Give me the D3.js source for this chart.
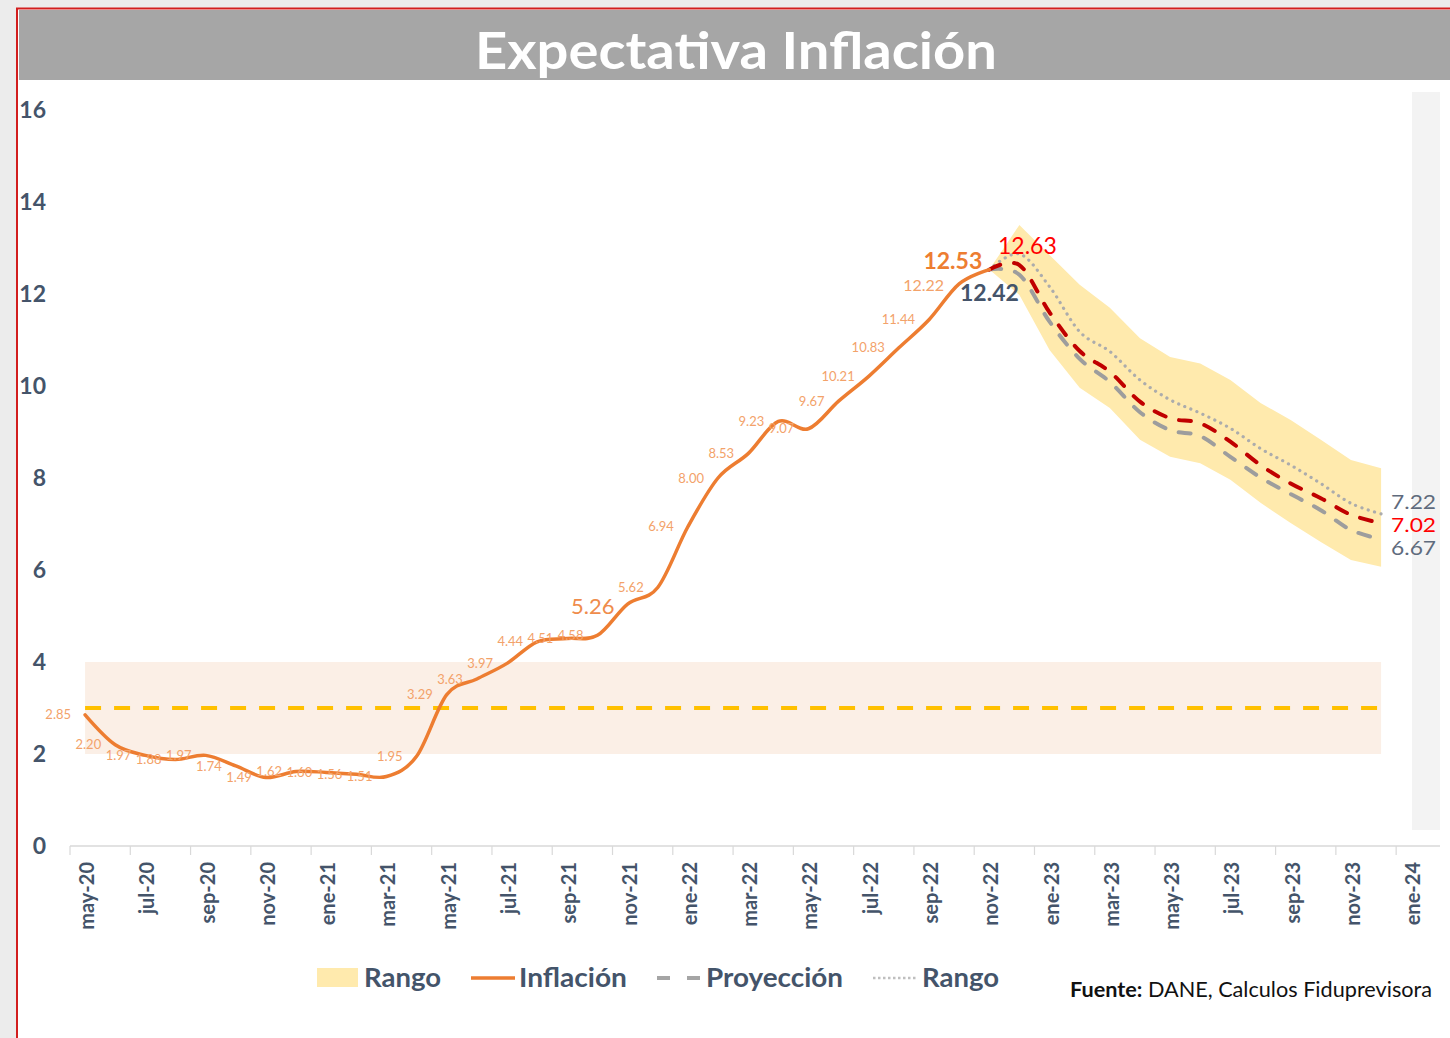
<!DOCTYPE html>
<html>
<head>
<meta charset="utf-8">
<script src="https://cdn.jsdelivr.net/npm/d3@7"></script>
<style>
  html, body { margin: 0; padding: 0; background: #ffffff; }
  svg { display: block; }
  text { font-family: Lato, "Open Sans", sans-serif; }
</style>
</head>
<body>
<svg id="chart" width="1450" height="1038"></svg>
<script>
// ---------------- DATA ----------------
const categories = [
  "may-20","jun-20","jul-20","ago-20","sep-20","oct-20","nov-20","dic-20",
  "ene-21","feb-21","mar-21","abr-21","may-21","jun-21","jul-21","ago-21","sep-21","oct-21","nov-21","dic-21",
  "ene-22","feb-22","mar-22","abr-22","may-22","jun-22","jul-22","ago-22","sep-22","oct-22","nov-22","dic-22",
  "ene-23","feb-23","mar-23","abr-23","may-23","jun-23","jul-23","ago-23","sep-23","oct-23","nov-23","dic-23",
  "ene-24"
];
const inflationMonths = categories.slice(0, 31); // may-20 .. nov-22
const inflation = [2.85, 2.20, 1.97, 1.88, 1.97, 1.74, 1.49, 1.62, 1.60, 1.56, 1.51, 1.95,
  3.29, 3.63, 3.97, 4.44, 4.51, 4.58, 5.26, 5.62, 6.94, 8.00, 8.53, 9.23, 9.07, 9.67,
  10.21, 10.83, 11.44, 12.22, 12.53];

const projMonths = ["nov-22","dic-22","ene-23","feb-23","mar-23","abr-23","may-23","jun-23","jul-23","ago-23","sep-23","oct-23","nov-23","dic-23"];
const projCentral = [12.53, 12.63, 11.60, 10.76, 10.31, 9.66, 9.30, 9.19, 8.79, 8.28, 7.88, 7.56, 7.20, 7.02];
const projLow     = [12.53, 12.42, 11.40, 10.59, 10.09, 9.43, 9.04, 8.91, 8.46, 8.01, 7.65, 7.30, 6.87, 6.67];
const projHigh    = [12.53, 12.87, 12.16, 11.18, 10.75, 10.13, 9.70, 9.41, 9.08, 8.64, 8.28, 7.88, 7.45, 7.22];
const bandHigh    = [12.53, 13.50, 12.85, 12.20, 11.70, 11.04, 10.63, 10.49, 10.13, 9.63, 9.26, 8.83, 8.39, 8.21];
const bandLow     = [12.53, 11.98, 10.78, 9.96, 9.52, 8.83, 8.46, 8.32, 7.96, 7.46, 7.02, 6.61, 6.22, 6.07];

const targetRange = [2, 4];
const targetValue = 3;
const targetMonths = ["may-20", "dic-23"];
const yTicks = [0, 2, 4, 6, 8, 10, 12, 14, 16];

const title = "Expectativa Inflación";
const legendItems = ["Rango", "Inflación", "Proyección", "Rango"];
const sourceBold = "Fuente:";
const sourceText = " DANE, Calculos Fiduprevisora";

// ---------------- CHART ----------------
const svg = d3.select("#chart");

// frame
svg.append("rect").attr("x", 0).attr("y", 0).attr("width", 1450).attr("height", 8).attr("fill", "#ececec");
svg.append("rect").attr("x", 0).attr("y", 0).attr("width", 16).attr("height", 1038).attr("fill", "#ececec");
svg.append("path").attr("d", "M17,1038 V8.5 H1450").attr("fill", "none").attr("stroke", "#d21e1e").attr("stroke-width", 2);
svg.append("rect").attr("x", 19).attr("y", 10).attr("width", 1431).attr("height", 70).attr("fill", "#a6a6a6");
svg.append("text").attr("x", 736).attr("y", 69).attr("text-anchor", "middle")
  .attr("fill", "#ffffff").attr("font-weight", 700).attr("font-size", 51)
  .attr("textLength", 522).attr("lengthAdjust", "spacingAndGlyphs").text(title);
svg.append("rect").attr("x", 1412).attr("y", 92).attr("width", 28).attr("height", 738).attr("fill", "#f3f3f3");

const x = d3.scaleBand().domain(categories).range([70, 70 + 45 * 30.14]).paddingInner(0).paddingOuter(0);
const cx = c => x(c) + x.bandwidth() / 2;
const y = d3.scaleLinear().domain([0, 16]).range([846, 110]);

// target range band
svg.append("rect")
  .attr("x", cx(targetMonths[0])).attr("width", cx(targetMonths[1]) - cx(targetMonths[0]))
  .attr("y", y(targetRange[1])).attr("height", y(targetRange[0]) - y(targetRange[1]))
  .attr("fill", "#fbefe6");

// projection band
const bandData = projMonths.map((m, i) => ({ m, lo: bandLow[i], hi: bandHigh[i] }));
svg.append("path").datum(bandData)
  .attr("d", d3.area().x(d => cx(d.m)).y0(d => y(d.lo)).y1(d => y(d.hi)))
  .attr("fill", "#ffeaad");

// target line
svg.append("line")
  .attr("x1", cx(targetMonths[0])).attr("x2", cx(targetMonths[1]))
  .attr("y1", y(targetValue)).attr("y2", y(targetValue))
  .attr("stroke", "#ffc000").attr("stroke-width", 4).attr("stroke-dasharray", "16,13");

// x axis
svg.append("line").attr("x1", 70).attr("x2", 1440).attr("y1", y(0)).attr("y2", y(0))
  .attr("stroke", "#d9d9d9").attr("stroke-width", 1.5);
const tickCats = categories.filter((c, i) => i % 2 === 0);
svg.append("g").selectAll("line").data(tickCats).join("line")
  .attr("x1", c => x(c)).attr("x2", c => x(c)).attr("y1", y(0)).attr("y2", y(0) + 9)
  .attr("stroke", "#d9d9d9").attr("stroke-width", 1.2);
const xAxis = d3.axisBottom(x).tickValues(tickCats).tickSize(0).tickPadding(0);
const gx = svg.append("g").attr("transform", `translate(0,${y(0)})`).call(xAxis);
gx.select(".domain").remove();
gx.selectAll("text")
  .attr("transform", "translate(2,16) rotate(-90)")
  .attr("text-anchor", "end").attr("dy", "0.35em").attr("x", 0).attr("y", 0)
  .attr("fill", "#44546a").attr("font-weight", 700).attr("font-size", 20)
  .style("font-family", "Lato, sans-serif");

// y axis
const yAxis = d3.axisLeft(y).tickValues(yTicks).tickSize(0).tickPadding(0);
const gy = svg.append("g").attr("transform", "translate(46,0)").call(yAxis);
gy.select(".domain").remove();
gy.selectAll("text").attr("fill", "#44546a").attr("font-weight", 700).attr("font-size", 23)
  .style("font-family", "Lato, sans-serif");

// lines
const smooth = d3.curveCardinal.tension(0);
const infData = inflationMonths.map((m, i) => ({ m, v: inflation[i] }));
const lineGen = d3.line().x(d => cx(d.m)).y(d => y(d.v)).curve(smooth);

const projSeries = (arr) => projMonths.map((m, i) => ({ m, v: arr[i] }));
svg.append("path").datum(projSeries(projHigh)).attr("d", lineGen)
  .attr("fill", "none").attr("stroke", "#acacac").attr("stroke-width", 3.2)
  .attr("stroke-dasharray", "0.1,6.5").attr("stroke-linecap", "round");
svg.append("path").datum(projSeries(projLow)).attr("d", lineGen)
  .attr("fill", "none").attr("stroke", "#9d9d9d").attr("stroke-width", 4)
  .attr("stroke-dasharray", "12,14").attr("stroke-linecap", "round");
svg.append("path").datum(projSeries(projCentral)).attr("d", lineGen)
  .attr("fill", "none").attr("stroke", "#c00000").attr("stroke-width", 4)
  .attr("stroke-dasharray", "12,14").attr("stroke-linecap", "round");

svg.append("path").datum(infData).attr("d", lineGen)
  .attr("fill", "none").attr("stroke", "#ed7d31").attr("stroke-width", 3.5)
  .attr("stroke-linejoin", "round").attr("stroke-linecap", "round");

// inflation data labels
const specialLabel = {
  "nov-21": { size: 22, weight: 400, fill: "#ef8c4b", dx: -13, dy: 2 },
  "oct-22": { size: 16, weight: 400, fill: "#f3a26a", dx: -15, dy: 2 },
  "nov-22": { size: 23, weight: 700, fill: "#ed7d31", dx: -7, dy: -9 }
};
svg.append("g").selectAll("text").data(infData).join("text")
  .each(function (d) {
    const s = specialLabel[d.m] || { size: 13, weight: 400, fill: "#f3a26a", dx: -14, dy: 0 };
    d3.select(this)
      .attr("x", cx(d.m) + s.dx).attr("y", y(d.v) + s.dy)
      .attr("dy", "0.35em").attr("text-anchor", "end")
      .attr("font-size", s.size).attr("font-weight", s.weight).attr("fill", s.fill)
      .text(d.v.toFixed(2));
  });

// projection labels
const pDec = projMonths[1];
const pLast = projMonths[projMonths.length - 1];
svg.append("text").attr("x", cx(pDec) + 8).attr("y", y(projCentral[1]) - 19).attr("dy", "0.35em")
  .attr("text-anchor", "middle").attr("font-size", 23).attr("fill", "#ff0000").text(projCentral[1].toFixed(2));
svg.append("text").attr("x", cx(pDec) - 30).attr("y", y(projLow[1]) + 18).attr("dy", "0.35em")
  .attr("text-anchor", "middle").attr("font-size", 23).attr("font-weight", 700).attr("fill", "#44546a").text(projLow[1].toFixed(2));
const endLabels = [
  { v: projHigh[projHigh.length - 1], fill: "#5f6b7d", dy: -12 },
  { v: projCentral[projCentral.length - 1], fill: "#ff0000", dy: 2 },
  { v: projLow[projLow.length - 1], fill: "#5f6b7d", dy: 9 }
];
svg.append("g").selectAll("text").data(endLabels).join("text")
  .attr("x", cx(pLast) + 10).attr("y", d => y(d.v) + d.dy).attr("dy", "0.35em")
  .attr("font-size", 20).attr("fill", d => d.fill)
  .attr("textLength", 45).attr("lengthAdjust", "spacingAndGlyphs")
  .text(d => d.v.toFixed(2));

// legend
const lg = svg.append("g");
const legendTextX = [364, 519, 706, 922];
const legendTextW = [77, 108, 137, 77];
lg.append("rect").attr("x", 317).attr("y", 968).attr("width", 41).attr("height", 19).attr("fill", "#ffeaad");
lg.append("line").attr("x1", 471).attr("x2", 515).attr("y1", 978).attr("y2", 978)
  .attr("stroke", "#ed7d31").attr("stroke-width", 3.5);
lg.append("line").attr("x1", 657).attr("x2", 700).attr("y1", 978).attr("y2", 978)
  .attr("stroke", "#a5a5a5").attr("stroke-width", 4).attr("stroke-dasharray", "13,17");
lg.append("line").attr("x1", 873).attr("x2", 916).attr("y1", 978).attr("y2", 978)
  .attr("stroke", "#bfbfbf").attr("stroke-width", 2.5).attr("stroke-dasharray", "2.5,2.5");
lg.selectAll("text.lt").data(legendItems).join("text").attr("class", "lt")
  .attr("x", (d, i) => legendTextX[i]).attr("y", 987)
  .attr("font-size", 26).attr("font-weight", 700).attr("fill", "#44546a")
  .attr("textLength", (d, i) => legendTextW[i]).attr("lengthAdjust", "spacingAndGlyphs")
  .text(d => d);

// source
const src = svg.append("text").attr("x", 1070).attr("y", 997).attr("font-size", 21).attr("fill", "#111111")
  .attr("textLength", 362).attr("lengthAdjust", "spacingAndGlyphs");
src.append("tspan").attr("font-weight", 700).text(sourceBold);
src.append("tspan").text(sourceText);
</script>
</body>
</html>
